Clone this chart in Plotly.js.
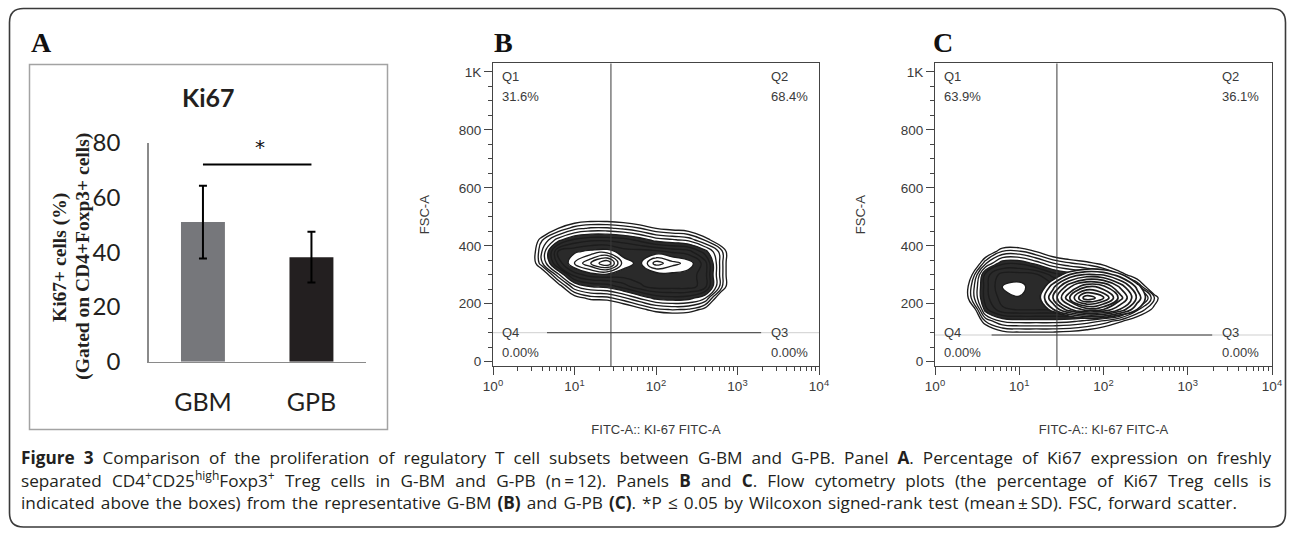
<!DOCTYPE html>
<html><head><meta charset="utf-8">
<script src="https://cdn.plot.ly/plotly-3.0.1.min.js"></script>
<style>html,body{margin:0;padding:0;background:#fff}#chart{width:1295px;height:535px}</style>
</head><body><div id="chart"></div>
<script>
// ---------- Panel A data ----------
const groups = ['GBM', 'GPB'];
const ki67Mean = [51.0, 38.2];
const ki67SD = [13.3, 9.3];
const barColors = ['#76777b', '#231f20'];
const sigLineX = [0, 1];
const sigLineY = [72, 72];
const sigStar = {x: 0.53, y: 78.5, text: '*'};
const aTicks = [0, 20, 40, 60, 80];

// ---------- Panels B / C : flow cytometry ----------
const fscTickVals = [0, 200, 400, 600, 800, 1000];
const fscTickText = ['0', '200', '400', '600', '800', '1K'];
const fitcTickVals = [1, 10, 100, 1000, 10000];
const fitcTickText = ['10<sup>0</sup>', '10<sup>1</sup>', '10<sup>2</sup>', '10<sup>3</sup>', '10<sup>4</sup>'];
const quadNames = ['Q1', 'Q2', 'Q3', 'Q4'];
const quadPctB = ['31.6%', '68.4%', '0.00%', '0.00%'];
const quadPctC = ['63.9%', '36.1%', '0.00%', '0.00%'];
const gateXB = 28, gateYB = 100;
const gateXC = 28, gateYC = 92;
const gateSegB = [4.6, 1950];
const gateSegC = [4.7, 1950];

// density grid, panel B (log10 FITC columns, FSC rows)
const bLog = [0.4, 0.6, 0.8, 1.0, 1.2, 1.4, 1.6, 1.8, 2.0, 2.2, 2.4, 2.6, 2.8, 3.0];
const bFsc = [140, 180, 220, 260, 300, 340, 380, 420, 460, 500, 540];
const bDensity = [
  [-3, -3, -3, -3, -3, -3, -3, -3, -1.9, -1.5, -1.7, -3, -3, -3],
  [-3, -3, -3, -3, -2.2, -1.9, -0.8, 0.5, 1.7, 2.1, 1.9, 0.5, -3, -3],
  [-3, -3, -3, 0.3, 1.5, 1.7, 2.8, 4.2, 5.4, 5.7, 5.5, 4.2, -0.8, -3],
  [-3, -3, 0.1, 3.9, 5.1, 5.4, 6.5, 7.8, 8.5, 8.5, 8.5, 7.5, 2.5, -2.5],
  [-2.5, -0.8, 3.7, 7.5, 8.5, 8.7, 8.5, 8.5, 8.4, 8.7, 8.5, 7.5, 2.5, -2.5],
  [-2, 2.8, 7.4, 10, 12, 14, 9.5, 8.7, 11.5, 10.4, 9.6, 7.5, 2.5, -2.5],
  [-2, 3.0, 8.1, 8.8, 9.3, 9.5, 8.5, 8.5, 8.3, 7.8, 7.4, 5.5, 2.5, -2.5],
  [-2.5, 1.9, 4.6, 6.3, 6.8, 6.8, 6.5, 5.7, 4.6, 4.2, 3.7, 1.9, -0.8, -3],
  [-3, -1.7, 1.0, 2.6, 3.2, 3.2, 2.8, 2.1, 1.0, 0.5, 0.1, -1.7, -3, -3],
  [-3, -3, -2.6, -1, -0.5, -0.5, -0.8, -1.5, -2.6, -3, -3, -3, -3, -3],
  [-3, -3, -3, -3, -3, -3, -3, -3, -3, -3, -3, -3, -3, -3]
];

// density grid, panel C (whole population)
const cLog = [0.2, 0.4, 0.6, 0.8, 1.0, 1.2, 1.4, 1.6, 1.8, 2.0, 2.2, 2.4, 2.6, 2.8];
const cFsc = [60, 100, 140, 180, 220, 260, 300, 340, 380, 420];
const cDensity = [
  [-3, -3, -3, -3, -2.8, -2.8, -2.8, -3, -3, -3, -3, -3, -3, -3],
  [-3, -3, -1.5, 0.5, 0.8, 0.8, 0.8, 0.6, 0.1, -0.8, -2.4, -3, -3, -3],
  [-3, -3, 2.1, 4.2, 4.5, 4.5, 4.5, 4.3, 3.7, 2.8, 1.3, -0.4, -3, -3],
  [-3, -2.2, 5.7, 7.8, 8.1, 8.1, 8.1, 8.5, 8.5, 8.5, 7.5, 3.3, 0.5, -2.5],
  [-3, 1.2, 6.6, 8.5, 8.95, 8.5, 8.5, 8.5, 8.5, 8.5, 8.5, 7.5, 2.1, -2.5],
  [-3, 1.2, 6.6, 9.1, 9.3, 8.5, 8.5, 8.5, 8.5, 8.5, 7.0, 3.3, -1.5, -3],
  [-3, -0.4, 6.5, 8.5, 8.5, 8.3, 6.6, 5.7, 5.1, 4, 1.9, -0.4, -3, -3],
  [-3, -3, 2.8, 5.7, 5.8, 4.6, 3.0, 2.1, 1.45, 0.4, -1.7, -3, -3, -3],
  [-3, -3, -0.8, 2.1, 2.2, 1.0, -0.6, -1.5, -2.2, -3, -3, -3, -3, -3],
  [-3, -3, -3, -1.5, -1.5, -2.6, -3, -3, -3, -3, -3, -3, -3, -3]
];
// density grid, panel C (Ki67-high lobe, concentric rings)
const cLobeLog = [1.2, 1.4, 1.6, 1.8, 2.0, 2.2, 2.4, 2.6];
const cLobeFsc = [100, 140, 180, 220, 260, 300, 340, 380];
const cLobeDensity = [
  [-3, -3, -3, -3, -3, -3, -3, -3],
  [-3, -3, -1.7, -0.9, -1.1, -2.3, -3, -3],
  [-1.5, 1.9, 4.8, 6.5, 6.0, 3.9, 1.0, -2.3],
  [0, 4.0, 8.0, 11.8, 10.2, 6.5, 2.8, -0.9],
  [-1.0, 2.6, 5.8, 7.8, 7.2, 4.7, 1.6, -1.8],
  [-3, -0.2, 2.1, 3.2, 2.9, 1.3, -1.1, -3],
  [-3, -3, -2.1, -1.3, -1.5, -2.7, -3, -3],
  [-3, -3, -3, -3, -3, -3, -3, -3]
];

const captionLines = [
  '<b>Figure 3</b> Comparison of the proliferation of regulatory T cell subsets between G-BM and G-PB. Panel <b>A</b>. Percentage of Ki67 expression on freshly',
  'separated CD4<sup>+</sup>CD25<sup>high</sup>Foxp3<sup>+</sup> Treg cells in G-BM and G-PB (n\u2009=\u200912). Panels <b>B</b> and <b>C</b>. Flow cytometry plots (the percentage of Ki67 Treg cells is',
  'indicated above the boxes) from the representative G-BM <b>(B)</b> and G-PB <b>(C)</b>. *P \u2264 0.05 by Wilcoxon signed-rank test (mean\u2009\u00b1\u2009SD). FSC, forward scatter.'
];
const captionWidth = [1250, 1250, 1216];

// ---------- layout helpers ----------
const W = 1295, H = 535;
const px = v => v / W;
const py = v => 1 - v / H;

const flowFont = {family: 'Liberation Sans, Arial, sans-serif', size: 13, color: '#3a3a3a'};
const flowTickFont = {family: 'Liberation Sans, Arial, sans-serif', size: 13.5, color: '#3a3a3a'};
const minorLog = [];
for (let k = 0; k < 4; k++) for (let m = 2; m <= 9; m++) minorLog.push(m * Math.pow(10, k));
const minorLin = [];
for (let v = 50; v <= 1000; v += 50) if (v % 200 !== 0) minorLin.push(v);

const baseScale = [
  [0, 'rgba(255,255,255,0)'], [0.04, 'rgba(255,255,255,0)'],
  [0.04, '#ffffff'], [0.195, '#ffffff'],
  [0.195, '#2a2a2a'], [0.355, '#2a2a2a'],
  [0.355, '#ffffff'], [1, '#ffffff']
];
const lobeScale = [
  [0, 'rgba(255,255,255,0)'], [0.04, 'rgba(255,255,255,0)'],
  [0.04, '#ffffff'], [1, '#ffffff']
];

function contourTrace(logs, fsc, dens, xa, ya, scale, lw) {
  return {
    type: 'contour', x: logs.map(v => Math.pow(10, v)), y: fsc, z: dens,
    xaxis: xa, yaxis: ya, hoverinfo: 'skip', showscale: false,
    zauto: false, zmin: 0, zmax: 25, colorscale: scale,
    contours: {coloring: 'fill', start: 1, end: 24, size: 1, showlines: true},
    line: {color: '#1c1c1c', width: lw, smoothing: 1.3}
  };
}
function gateTraces(gx, gy, seg, xa, ya) {
  return [
    {type: 'scatter', mode: 'lines', x: [1, 10000], y: [gy, gy], xaxis: xa, yaxis: ya,
     line: {color: '#cfcfcf', width: 1}, hoverinfo: 'skip', showlegend: false},
    {type: 'scatter', mode: 'lines', x: seg, y: [gy, gy], xaxis: xa, yaxis: ya,
     line: {color: '#3a3a3a', width: 1}, hoverinfo: 'skip', showlegend: false},
    {type: 'scatter', mode: 'lines', x: [gx, gx], y: [-15, 1030], xaxis: xa, yaxis: ya,
     line: {color: '#3a3a3a', width: 1}, hoverinfo: 'skip', showlegend: false}
  ];
}

const data = [
  {type: 'bar', x: [0, 1], y: ki67Mean, width: 0.405, marker: {color: barColors},
   error_y: {type: 'data', array: ki67SD, visible: true, color: '#000', thickness: 2, width: 4},
   xaxis: 'x', yaxis: 'y', hoverinfo: 'skip', showlegend: false},
  {type: 'scatter', mode: 'lines', x: sigLineX, y: sigLineY, xaxis: 'x', yaxis: 'y',
   line: {color: '#000', width: 2}, hoverinfo: 'skip', showlegend: false},
  contourTrace(bLog, bFsc, bDensity, 'x2', 'y2', baseScale, 1.35),
  ...gateTraces(gateXB, gateYB, gateSegB, 'x2', 'y2'),
  contourTrace(cLog, cFsc, cDensity, 'x3', 'y3', baseScale, 1.35),
  contourTrace(cLobeLog, cLobeFsc, cLobeDensity, 'x3', 'y3', lobeScale, 1.7),
  ...gateTraces(gateXC, gateYC, gateSegC, 'x3', 'y3')
];

const flowDomY = [py(366), py(63.3)];
function flowX(dom, anchor) {
  return {
    domain: dom, anchor: anchor, type: 'log', range: [0, 4], showgrid: false, zeroline: false,
    showline: true, mirror: true, linecolor: '#444', linewidth: 1,
    tickmode: 'array', tickvals: fitcTickVals, ticktext: fitcTickText,
    ticks: 'outside', ticklen: 8, tickcolor: '#444', tickfont: flowTickFont,
    minor: {tickmode: 'array', tickvals: minorLog, ticks: 'outside', ticklen: 4, tickcolor: '#444'},
    title: {text: 'FITC-A:: KI-67 FITC-A', font: flowFont, standoff: 31}
  };
}
function flowY(anchor, standoff) {
  return {
    domain: flowDomY, anchor: anchor, range: [-15, 1030], showgrid: false, zeroline: false,
    showline: true, mirror: true, linecolor: '#444', linewidth: 1,
    tickmode: 'array', tickvals: fscTickVals, ticktext: fscTickText,
    ticks: 'outside', ticklen: 8, tickcolor: '#444', tickfont: flowTickFont,
    minor: {tickmode: 'array', tickvals: minorLin, ticks: 'outside', ticklen: 4, tickcolor: '#444'},
    title: {text: 'FSC-A', font: flowFont, standoff: standoff}
  };
}

const annotations = [];
const panelFont = {family: 'Liberation Serif, Times New Roman, serif', size: 28, color: '#111', weight: 'bold'};
[['A', 41], ['B', 503], ['C', 943]].forEach(([t, x]) => annotations.push({
  text: t, xref: 'paper', yref: 'paper', x: px(x), y: py(43), xanchor: 'center', yanchor: 'middle',
  showarrow: false, font: panelFont
}));
annotations.push({text: 'Ki67', xref: 'paper', yref: 'paper', x: px(208), y: py(97), showarrow: false,
  xanchor: 'center', yanchor: 'middle', font: {family: 'Lato, sans-serif', size: 25, color: '#231f20', weight: 'bold'}});
const yTitleFont = {family: 'Liberation Serif, Times New Roman, serif', size: 19.5, color: '#231f20', weight: 'bold'};
annotations.push({text: 'Ki67+ cells (%)', xref: 'paper', yref: 'paper', x: px(60), y: py(258), textangle: -90,
  showarrow: false, xanchor: 'center', yanchor: 'middle', font: yTitleFont});
annotations.push({text: '(Gated on CD4+Foxp3+ cells)', xref: 'paper', yref: 'paper', x: px(83), y: py(256.7), textangle: -90,
  showarrow: false, xanchor: 'center', yanchor: 'middle', font: yTitleFont});
annotations.push({text: sigStar.text, xref: 'x', yref: 'y', x: sigStar.x, y: sigStar.y, showarrow: false,
  xanchor: 'center', yanchor: 'middle', font: {family: 'DejaVu Sans, sans-serif', size: 20, color: '#111'}});

function quadAnn(names, pcts, xa, ya) {
  const xs = [0.021, 0.847, 0.847, 0.021];
  const yName = [0.958, 0.958, 0.112, 0.112];
  const yPct = [0.889, 0.889, 0.043, 0.043];
  names.forEach((n, i) => {
    annotations.push({text: n, xref: xa + ' domain', yref: ya + ' domain', x: xs[i], y: yName[i],
      xanchor: 'left', yanchor: 'middle', showarrow: false, font: flowFont});
    annotations.push({text: pcts[i], xref: xa + ' domain', yref: ya + ' domain', x: xs[i], y: yPct[i],
      xanchor: 'left', yanchor: 'middle', showarrow: false, font: flowFont});
  });
}
quadAnn(quadNames, quadPctB, 'x2', 'y2');
quadAnn(quadNames, quadPctC, 'x3', 'y3');

const capY = [457, 479.5, 502];
captionLines.forEach((t, i) => annotations.push({
  text: t, xref: 'paper', yref: 'paper', x: px(20), y: py(capY[i]), xanchor: 'left', yanchor: 'middle',
  align: 'left', borderpad: 0, showarrow: false,
  font: {family: 'Open Sans, sans-serif', size: 17.2, color: '#231f20'}
}));

// rounded outer frame
const L = 9.5, R = 1285.5, T = 8.5, B = 527, r = 14;
const P = (x, y) => px(x).toFixed(5) + ',' + py(y).toFixed(5);
const framePath = 'M' + P(L + r, T) + ' L' + P(R - r, T) + ' Q' + P(R, T) + ' ' + P(R, T + r) +
  ' L' + P(R, B - r) + ' Q' + P(R, B) + ' ' + P(R - r, B) + ' L' + P(L + r, B) +
  ' Q' + P(L, B) + ' ' + P(L, B - r) + ' L' + P(L, T + r) + ' Q' + P(L, T) + ' ' + P(L + r, T) + ' Z';

const layout = {
  width: W, height: H, margin: {l: 0, r: 0, t: 0, b: 0},
  paper_bgcolor: '#fff', plot_bgcolor: 'rgba(0,0,0,0)', showlegend: false,
  font: {family: 'Open Sans, sans-serif', color: '#231f20'},
  xaxis: {domain: [px(148.7), px(365.7)], anchor: 'y', range: [-0.5, 1.5], showgrid: false, zeroline: false,
    showline: true, linecolor: '#8a8a8a', linewidth: 1.5, tickmode: 'array', tickvals: [0, 1], ticktext: groups,
    ticks: 'outside', ticklen: 18, tickcolor: 'rgba(0,0,0,0)',
    tickfont: {family: 'Lato, sans-serif', size: 25, color: '#231f20'}},
  yaxis: {domain: [py(361.7), py(142.7)], anchor: 'x', range: [0, 80], tickvals: aTicks, showgrid: false, zeroline: false,
    showline: true, linecolor: '#8a8a8a', linewidth: 1.5, ticks: 'outside', ticklen: 22, tickcolor: 'rgba(0,0,0,0)',
    tickfont: {family: 'Lato, sans-serif', size: 24, color: '#231f20'}},
  xaxis2: flowX([px(493), px(819)], 'y2'),
  yaxis2: flowY('x2', 26),
  xaxis3: flowX([px(935), px(1272)], 'y3'),
  yaxis3: flowY('x3', 32),
  shapes: [
    {type: 'path', xref: 'paper', yref: 'paper', path: framePath, line: {color: '#3a3a3a', width: 1.6}},
    {type: 'rect', xref: 'paper', yref: 'paper', x0: px(29.5), x1: px(387.5), y0: py(429.5), y1: py(64.5),
     line: {color: '#a3a3a3', width: 1.5}}
  ],
  annotations: annotations
};

Plotly.newPlot('chart', data, layout, {displayModeBar: false, staticPlot: true}).then(gd => {
  // justify the caption lines to the caption width of the reference
  const clean = s => s.replace(/<[^>]+>/g, '').replace(/[\u200b\u2009]/g, '');
  const starts = captionLines.map(t => clean(t).slice(0, 10));
  gd.querySelectorAll('text.annotation-text').forEach(el => {
    const s = clean(el.textContent);
    const idx = starts.findIndex(p => s.startsWith(p));
    if (idx < 0) return;
    const len = el.getComputedTextLength();
    const spaces = (el.textContent.match(/ /g) || []).length;
    const target = captionWidth[idx];
    if (spaces && len < target) el.style.wordSpacing = ((target - len) / spaces).toFixed(2) + 'px';
  });
});
</script>
</body></html>
